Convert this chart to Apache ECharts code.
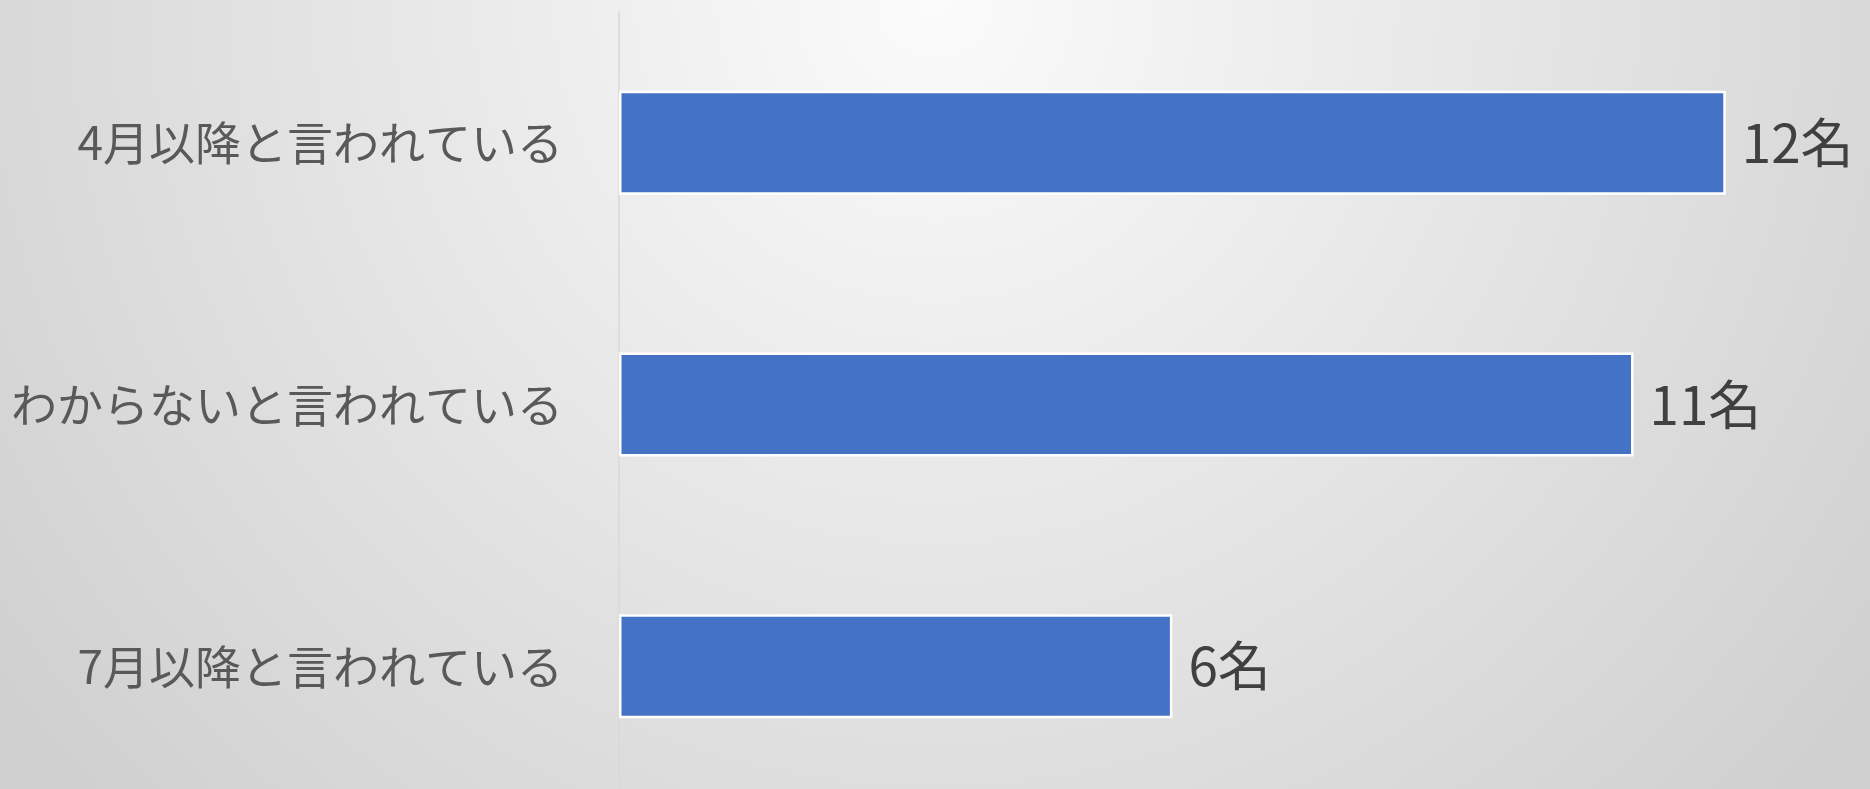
<!DOCTYPE html>
<html><head><meta charset="utf-8">
<script src="https://cdn.jsdelivr.net/npm/echarts@6/dist/echarts.min.js"></script>
<style>html,body{margin:0;padding:0;}#c{width:1870px;height:789px;}</style>
</head><body><div id="c"></div>
<script>
const categories = ['4月以降と言われている', 'わからないと言われている', '7月以降と言われている'];
const values = [12, 11, 6];
const unit = '名';

const chart = echarts.init(document.getElementById('c'));
chart.setOption({
  backgroundColor: {
    type: 'radial', x: 0.5, y: 0.0, r: 1.5,
    colorStops: [
      {offset: 0, color: '#fbfbfb'},
      {offset: 1, color: '#cfcfcf'}
    ]
  },
  animation: false,
  grid: {left: 619, top: 12, width: 1199, height: 785, outerBoundsMode: 'none', containLabel: false},
  xAxis: {
    type: 'value', min: 0, max: 13, show: false
  },
  yAxis: {
    type: 'category', data: categories, inverse: true,
    axisLine: {show: true, lineStyle: {color: '#d9d9d9', width: 1.5}},
    axisTick: {show: false},
    axisLabel: {
      margin: 56, color: '#595959', fontSize: 46,
      fontFamily: '"Noto Sans CJK JP", sans-serif'
    }
  },
  series: [{
    type: 'bar', data: values, barWidth: 104,
    itemStyle: {color: '#4472C4', borderColor: '#ffffff', borderWidth: 2.5},
    label: {
      show: true, position: 'right', distance: 16,
      formatter: p => p.value + unit,
      color: '#404040', fontSize: 53,
      fontFamily: '"Noto Sans CJK JP", sans-serif'
    }
  }]
});
</script></body></html>
